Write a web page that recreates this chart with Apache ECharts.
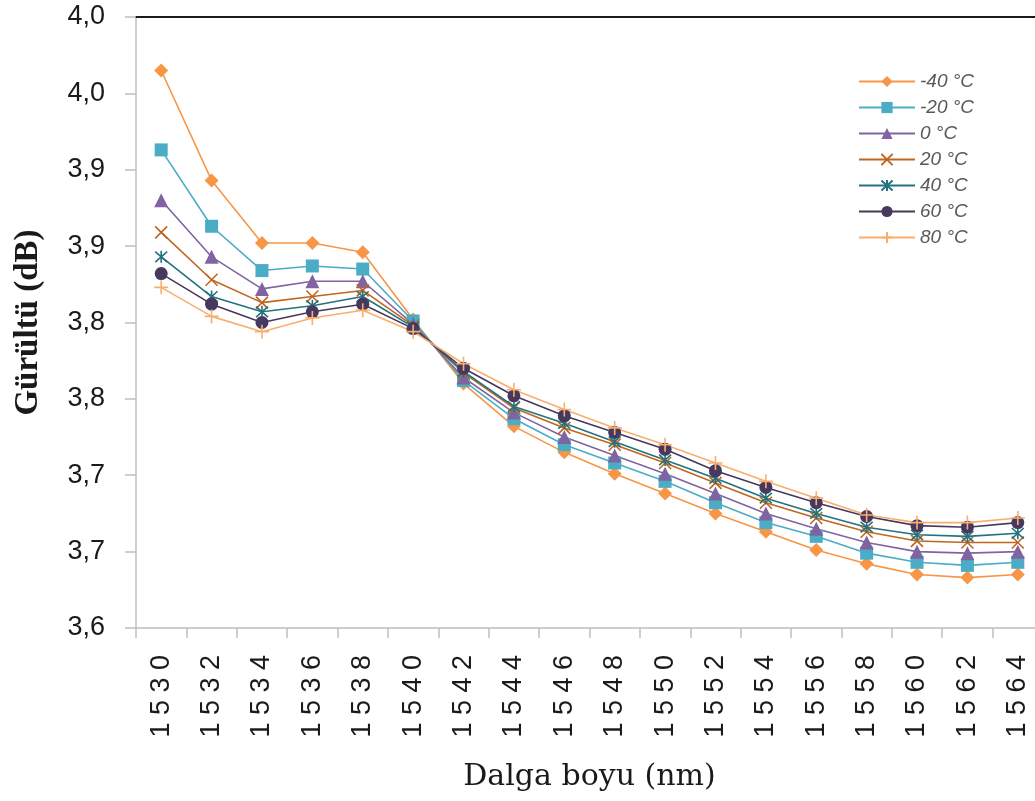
<!DOCTYPE html>
<html>
<head>
<meta charset="utf-8">
<script src="https://cdn.jsdelivr.net/npm/echarts@6/dist/echarts.min.js"></script>
<style>
  html, body { margin: 0; padding: 0; background: #fff; }
  #chart { width: 1035px; height: 801px; }
</style>
</head>
<body>
<div id="chart"></div>
<script>
// Wavelength categories (nm)
const wavelengths = ['1530','1532','1534','1536','1538','1540','1542','1544','1546','1548','1550','1552','1554','1556','1558','1560','1562','1564'];

// Y tick labels as printed (one decimal, comma separator)
const yTickLabels = ['3,6','3,7','3,7','3,8','3,8','3,9','3,9','4,0','4,0'];

// Noise (dB) per temperature
const noiseM40 = [3.965, 3.893, 3.852, 3.852, 3.846, 3.802, 3.760, 3.732, 3.715, 3.701, 3.688, 3.675, 3.663, 3.651, 3.642, 3.635, 3.633, 3.635];
const noiseM20 = [3.913, 3.863, 3.834, 3.837, 3.835, 3.801, 3.762, 3.737, 3.720, 3.708, 3.696, 3.682, 3.669, 3.660, 3.649, 3.643, 3.641, 3.643];
const noise0   = [3.880, 3.843, 3.822, 3.827, 3.827, 3.799, 3.764, 3.741, 3.725, 3.713, 3.701, 3.688, 3.675, 3.665, 3.656, 3.650, 3.649, 3.650];
const noise20  = [3.859, 3.828, 3.813, 3.817, 3.821, 3.798, 3.767, 3.744, 3.731, 3.720, 3.708, 3.695, 3.682, 3.672, 3.663, 3.657, 3.656, 3.656];
const noise40  = [3.843, 3.817, 3.807, 3.811, 3.817, 3.797, 3.768, 3.745, 3.734, 3.722, 3.710, 3.698, 3.685, 3.675, 3.666, 3.661, 3.660, 3.662];
const noise60  = [3.832, 3.812, 3.800, 3.807, 3.812, 3.796, 3.770, 3.752, 3.739, 3.728, 3.717, 3.703, 3.692, 3.682, 3.673, 3.667, 3.666, 3.669];
const noise80  = [3.823, 3.804, 3.794, 3.803, 3.808, 3.794, 3.773, 3.756, 3.743, 3.731, 3.720, 3.708, 3.696, 3.685, 3.674, 3.669, 3.669, 3.672];

const seriesNames = ['-40 °C', '-20 °C', '0 °C', '20 °C', '40 °C', '60 °C', '80 °C'];

// Stroke-only marker shapes
const SYM_X = 'path://M0,0L10,10M10,0L0,10';
const SYM_STAR = 'path://M5,0L5,10M0.6,0.6L9.4,9.4M9.4,0.6L0.6,9.4';
const SYM_PLUS = 'path://M5,0L5,10M0,5L10,5';

const styles = [
  { data: noiseM40, color: '#F79646', symbol: 'diamond', size: 14, stroke: false },
  { data: noiseM20, color: '#4BACC6', symbol: 'rect', size: 13, stroke: false },
  { data: noise0,   color: '#8064A2', symbol: 'triangle', size: 14, stroke: false },
  { data: noise20,  color: '#C0661F', symbol: SYM_X, size: 12, stroke: true },
  { data: noise40,  color: '#23727F', symbol: SYM_STAR, size: 12, stroke: true },
  { data: noise60,  color: '#46385E', symbol: 'circle', size: 13, stroke: false },
  { data: noise80,  color: '#FAAE6E', symbol: SYM_PLUS, size: 14, stroke: true }
];

const series = styles.map((s, i) => ({
  name: seriesNames[i],
  type: 'line',
  data: s.data,
  symbol: s.symbol,
  symbolSize: s.size,
  showAllSymbol: true,
  lineStyle: { color: s.color, width: 1.6 },
  itemStyle: s.stroke
    ? { color: s.color, borderColor: s.color, borderWidth: 1.6 }
    : { color: s.color, borderWidth: 0 },
  emphasis: { disabled: true }
}));

// Digits of the wavelength labels are spread apart
const spread = v => v.split('').join(' ');

const chart = echarts.init(document.getElementById('chart'), null, { renderer: 'canvas' });
chart.setOption({
  animation: false,
  backgroundColor: '#ffffff',
  grid: { left: 136, right: -8, top: 17, bottom: 173, outerBoundsMode: 'none' },
  legend: {
    orient: 'vertical',
    left: 853,
    top: 67,
    itemWidth: 56,
    itemHeight: 14,
    itemGap: 7,
    data: seriesNames,
    textStyle: { fontFamily: 'Liberation Sans', fontStyle: 'italic', fontSize: 19, color: '#595959' }
  },
  xAxis: [
    {
      type: 'category',
      data: wavelengths,
      boundaryGap: true,
      name: 'Dalga boyu (nm)',
      nameLocation: 'middle',
      nameGap: 134,
      nameTextStyle: { fontFamily: 'DejaVu Serif', fontSize: 30, color: '#1a1a1a' },
      axisLine: { show: true, lineStyle: { color: '#BFBFBF', width: 1.5 } },
      axisTick: { show: true, length: 10, lineStyle: { color: '#BFBFBF', width: 1.5 } },
      axisLabel: {
        rotate: 90,
        margin: 27,
        interval: 0,
        fontFamily: 'Liberation Sans',
        fontSize: 27,
        color: '#1a1a1a',
        formatter: spread
      },
      splitLine: { show: false }
    },
    {
      // dark frame line along the top of the plot
      type: 'category',
      data: wavelengths,
      position: 'top',
      axisLine: { show: true, lineStyle: { color: '#1a1a1a', width: 2 } },
      axisTick: { show: false },
      axisLabel: { show: false },
      splitLine: { show: false }
    }
  ],
  yAxis: {
    type: 'value',
    min: 3.6,
    max: 4.0,
    interval: 0.05,
    name: 'Gürültü (dB)',
    nameLocation: 'middle',
    nameGap: 91,
    nameRotate: 90,
    nameTextStyle: { fontFamily: 'Liberation Serif', fontWeight: 'bold', fontSize: 33, color: '#1a1a1a' },
    axisLine: { show: true, lineStyle: { color: '#BFBFBF', width: 1.5 } },
    axisTick: { show: true, length: 11, lineStyle: { color: '#BFBFBF', width: 1.5 } },
    axisLabel: {
      margin: 31,
      fontFamily: 'Liberation Sans',
      fontSize: 27,
      color: '#1a1a1a',
      formatter: (v, idx) => yTickLabels[idx]
    },
    splitLine: { show: false }
  },
  series: series
});
</script>
</body>
</html>
